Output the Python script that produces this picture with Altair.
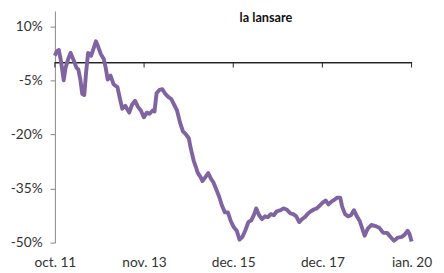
import altair as alt
import pandas as pd

title_text = "la lansare"

# days since launch (launch = first tick) and performance in %
days = [0, 16, 33, 49, 66, 74, 90, 115, 132, 156, 181, 197, 214, 230, 247, 263, 279, 304, 329, 345,
        362, 386, 411, 427, 444, 468, 493, 526, 551, 567, 592, 625, 649, 674, 699, 723, 748, 773, 797, 822,
        838, 855, 879, 904, 929, 953, 978, 1003, 1027, 1052, 1077, 1101, 1126, 1142, 1167, 1184, 1200, 1225, 1241, 1266,
        1290, 1315, 1332, 1356, 1381, 1405, 1430, 1455, 1479, 1504, 1529, 1553, 1578, 1603, 1627, 1652, 1677, 1693, 1718, 1742,
        1767, 1792, 1816, 1841, 1866, 1899, 1923, 1948, 1981, 2005, 2030, 2055, 2079, 2104, 2129, 2153, 2178, 2203, 2227, 2252,
        2277, 2301, 2326, 2351, 2375, 2400, 2416, 2441, 2466, 2490, 2515, 2540, 2564, 2589, 2605, 2630, 2663, 2696, 2729, 2762,
        2794, 2827, 2852, 2885, 2918, 2942, 2967, 2983, 3000]
perf = [1.9, 3.2, 3.5, 0.8, -3.0, -4.9, -1.4, 1.3, 2.7, 0.8, -1.4, -1.9, -4.7, -8.7, -9.0, -2.5, 2.7, 1.9, 4.3, 5.9,
        4.6, 2.4, 1.0, -1.4, -4.7, -3.6, -6.0, -6.8, -10.6, -12.8, -12.0, -13.9, -11.7, -10.6, -12.3, -13.3, -15.2, -13.9, -14.2, -13.3,
        -13.6, -8.5, -7.6, -7.4, -8.7, -9.5, -10.1, -11.7, -13.3, -16.6, -19.1, -19.9, -21.0, -23.7, -27.2, -28.8, -30.5, -31.8, -32.9, -31.8,
        -30.7, -32.4, -33.2, -35.1, -37.2, -39.7, -41.6, -41.6, -44.0, -45.7, -46.7, -49.2, -48.4, -46.5, -44.3, -43.8, -42.1, -40.5, -42.4, -43.5,
        -42.7, -42.9, -42.1, -42.4, -41.3, -41.0, -40.5, -40.8, -41.9, -42.1, -42.7, -44.3, -43.5, -42.9, -41.9, -41.3, -40.8, -40.5, -39.7, -38.9,
        -38.3, -39.4, -38.6, -38.1, -37.5, -37.5, -40.0, -42.1, -42.7, -42.4, -41.0, -42.7, -44.0, -46.5, -48.1, -46.2, -45.1, -45.4, -45.9, -47.3,
        -47.3, -48.6, -49.5, -48.6, -48.4, -47.8, -46.7, -47.6, -49.7]

tick_days = [0, 750, 1500, 2250, 3000]
tick_labels = ["oct. 11", "nov. 13", "dec. 15", "dec. 17", "ian. 20"]
y_ticks = [-50, -35, -20, -5, 10]

df = pd.DataFrame({"day": days, "perf": perf})
ticks_df = pd.DataFrame({"day": tick_days})

FONT = "Lato"
TXT = "#333333"

label_expr = "[" + ",".join("'%s'" % t for t in tick_labels) + "][round(datum.value/750)]"

xscale = alt.Scale(domain=[0, 3000], nice=False, zero=False)
yscale = alt.Scale(domain=[-50, 14.34], nice=False, zero=False)

line = alt.Chart(df).mark_line(color="#8064A2", strokeWidth=4, strokeJoin="round").encode(
    x=alt.X("day:Q", scale=xscale,
            axis=alt.Axis(values=tick_days, labelExpr=label_expr, title=None, domain=False,
                          ticks=False, grid=False, labelPadding=13, labelFont=FONT, labelFontSize=14,
                          labelColor=TXT, labelFlush=False)),
    y=alt.Y("perf:Q", scale=yscale,
            axis=alt.Axis(values=y_ticks, labelExpr="datum.value + '%'", title=None, grid=False,
                          domainColor="#868686", tickColor="#868686", tickSize=5, labelPadding=8,
                          labelFont=FONT, labelFontSize=14, labelColor=TXT)),
)

zero_line = alt.Chart(ticks_df).mark_rule(color="#222222", strokeWidth=1).encode(
    y=alt.datum(0, scale=yscale)
)

zero_ticks = alt.Chart(ticks_df).mark_rule(color="#222222", strokeWidth=1, y2Offset=5).encode(
    x=alt.X("day:Q", scale=xscale),
    y=alt.datum(0),
    y2=alt.datum(0),
)

title_mark = alt.Chart(ticks_df.head(1)).mark_text(
    text=title_text, font=FONT, fontSize=13, fontWeight="bold", color="#111111",
    baseline="top", align="center"
).encode(x=alt.value(216), y=alt.value(1))

chart = alt.layer(zero_line, zero_ticks, line, title_mark).properties(
    width=365, height=237,
    padding={"left": 48, "top": 0, "right": 25, "bottom": 26},
    autosize="none",
    background="white",
).configure_view(stroke=None)

chart.save("out.html", embed_options={"renderer": "svg", "actions": False})
